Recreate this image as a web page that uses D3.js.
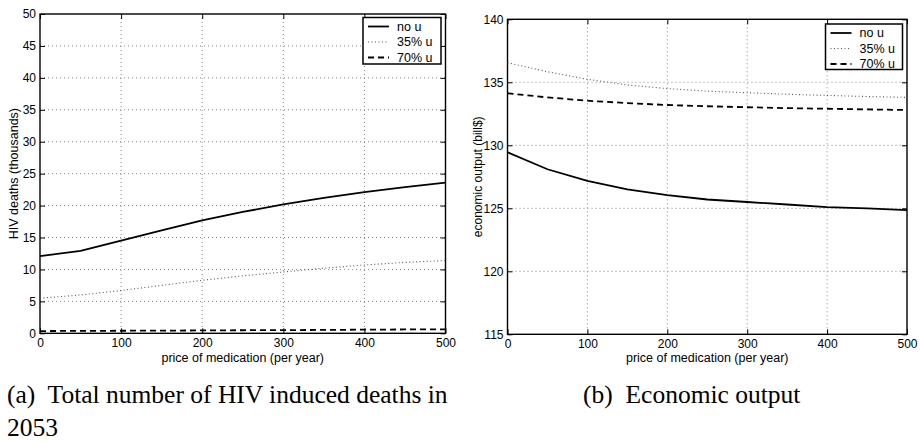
<!DOCTYPE html>
<html><head><meta charset="utf-8">
<script src="https://cdn.jsdelivr.net/npm/d3@7"></script>
<style>
body{margin:0;background:#fff;}
svg{display:block;}
text{font-family:"Liberation Sans",Arial,Helvetica,sans-serif;}
.cap{font-family:"Liberation Serif","Times New Roman",serif;}
</style></head>
<body>
<svg id="chart" width="920" height="442"></svg>
<script>
const price = [0,50,100,150,200,250,300,350,400,450,500];
const xTicks = [0,100,200,300,400,500];
const seriesNames = ["no u","35% u","70% u"];

// (a) HIV deaths (thousands)
const deathsNoU  = [12.1,12.9,14.5,16.1,17.7,19.0,20.2,21.2,22.1,22.9,23.6];
const deaths35   = [5.5,6.0,6.7,7.5,8.3,9.0,9.6,10.2,10.7,11.1,11.4];
const deaths70   = [0.35,0.38,0.40,0.42,0.45,0.48,0.50,0.53,0.57,0.60,0.63];
const deathsTicks = [0,5,10,15,20,25,30,35,40,45,50];

// (b) Economic output (bill$)
const outputNoU = [129.45,128.1,127.17,126.5,126.05,125.7,125.5,125.3,125.1,125.0,124.86];
const output35  = [136.56,135.84,135.24,134.79,134.5,134.3,134.17,134.05,133.96,133.87,133.8];
const output70  = [134.13,133.8,133.54,133.35,133.2,133.1,133.02,132.95,132.9,132.85,132.8];
const outputTicks = [115,120,125,130,135,140];

const captionA = ["(a)  Total number of HIV induced deaths in","2053"];
const captionB = "(b)  Economic output";

const svg = d3.select("#chart");
const FS = "12px";

const styles = [
  {stroke:"#000", width:1.8, dash:null},
  {stroke:"#555", width:1.1, dash:"1,2.5"},
  {stroke:"#000", width:1.8, dash:"6,4"}
];

function panel(cfg){
  const g = svg.append("g");
  const x = d3.scaleLinear().domain([0,500]).range([cfg.left,cfg.right]);
  const y = d3.scaleLinear().domain(cfg.ydom).range([cfg.bottom,cfg.top]);

  // grid
  g.append("g").selectAll("line").data(xTicks.slice(1,-1)).join("line")
    .attr("x1",d=>x(d)).attr("x2",d=>x(d)).attr("y1",cfg.top).attr("y2",cfg.bottom)
    .attr("stroke","#888").attr("stroke-width",1).attr("stroke-dasharray","1,3");
  g.append("g").selectAll("line").data(cfg.yticks.slice(1,-1)).join("line")
    .attr("y1",d=>y(d)).attr("y2",d=>y(d)).attr("x1",cfg.left).attr("x2",cfg.right)
    .attr("stroke","#888").attr("stroke-width",1).attr("stroke-dasharray","1,3");

  // axes with inward ticks
  const tl = 5;
  const xb = g.append("g").attr("transform",`translate(0,${cfg.bottom})`)
    .call(d3.axisBottom(x).tickValues(xTicks).tickSizeInner(-tl).tickSizeOuter(0).tickPadding(5).tickFormat(d3.format("d")));
  const xt = g.append("g").attr("transform",`translate(0,${cfg.top})`)
    .call(d3.axisTop(x).tickValues(xTicks).tickSizeInner(-tl).tickSizeOuter(0).tickFormat(""));
  const yl = g.append("g").attr("transform",`translate(${cfg.left},0)`)
    .call(d3.axisLeft(y).tickValues(cfg.yticks).tickSizeInner(-tl).tickSizeOuter(0).tickPadding(4).tickFormat(d3.format("d")));
  const yr = g.append("g").attr("transform",`translate(${cfg.right},0)`)
    .call(d3.axisRight(y).tickValues(cfg.yticks).tickSizeInner(-tl).tickSizeOuter(0).tickFormat(""));
  [xb,xt,yl,yr].forEach(a=>{
    a.select(".domain").remove();
    a.selectAll("line").attr("stroke","#000").attr("stroke-width",1);
    a.selectAll("text").attr("font-size",FS).attr("fill","#000")
      .attr("font-family","'Liberation Sans',Arial,sans-serif");
  });
  xb.selectAll("text").attr("dy","0.71em");

  // frame
  g.append("rect").attr("x",cfg.left).attr("y",cfg.top)
    .attr("width",cfg.right-cfg.left).attr("height",cfg.bottom-cfg.top)
    .attr("fill","none").attr("stroke","#000").attr("stroke-width",1.4);

  // lines
  const line = d3.line().x((d,i)=>x(price[i])).y(d=>y(d)).curve(d3.curveLinear);
  cfg.series.forEach((s,i)=>{
    g.append("path").attr("d",line(s)).attr("fill","none")
      .attr("stroke",styles[i].stroke).attr("stroke-width",styles[i].width)
      .attr("stroke-dasharray",styles[i].dash);
  });

  // axis titles
  g.append("text").attr("x",(cfg.left+cfg.right)/2).attr("y",cfg.xtitleY)
    .attr("text-anchor","middle").attr("font-size","12.5px").text("price of medication (per year)");
  g.append("text").attr("transform",`translate(${cfg.ytitleX},${(cfg.top+cfg.bottom)/2}) rotate(-90)`)
    .attr("text-anchor","middle").attr("font-size",cfg.ytitleSize).text(cfg.ytitle);

  // legend
  const L = cfg.legend;
  g.append("rect").attr("x",L.x).attr("y",L.y).attr("width",L.w).attr("height",L.h)
    .attr("fill","#fff").attr("stroke","#000").attr("stroke-width",1.5);
  seriesNames.forEach((n,i)=>{
    const yy = L.y + 9 + i*15.5;
    g.append("line").attr("x1",L.x+5).attr("x2",L.x+26).attr("y1",yy).attr("y2",yy)
      .attr("stroke",styles[i].stroke).attr("stroke-width",styles[i].width)
      .attr("stroke-dasharray",styles[i].dash);
    g.append("text").attr("x",L.x+34).attr("y",yy).attr("dy","0.35em")
      .attr("font-size","12.5px").text(n);
  });
}

panel({left:40,right:445.5,top:14,bottom:333.3,ydom:[0,50],yticks:deathsTicks,
  series:[deathsNoU,deaths35,deaths70],xtitleY:361.5,ytitleX:18,ytitle:"HIV deaths (thousands)",ytitleSize:"12.5px",
  legend:{x:363,y:17.5,w:78,h:46.5}});
panel({left:507.5,right:907,top:19.3,bottom:334.3,ydom:[115,140],yticks:outputTicks,
  series:[outputNoU,output35,output70],xtitleY:361.5,ytitleX:482,ytitle:"economic output (bill$)",ytitleSize:"12px",
  legend:{x:825.5,y:24,w:77,h:45.5}});

// captions
svg.append("text").attr("class","cap").attr("x",7).attr("y",403).attr("font-size","25.5px")
  .style("white-space","pre").text(captionA[0]);
svg.append("text").attr("class","cap").attr("x",7).attr("y",436).attr("font-size","25.5px").text(captionA[1]);
svg.append("text").attr("class","cap").attr("x",583).attr("y",403).attr("font-size","25.5px")
  .style("white-space","pre").text(captionB);
</script>
</body></html>
